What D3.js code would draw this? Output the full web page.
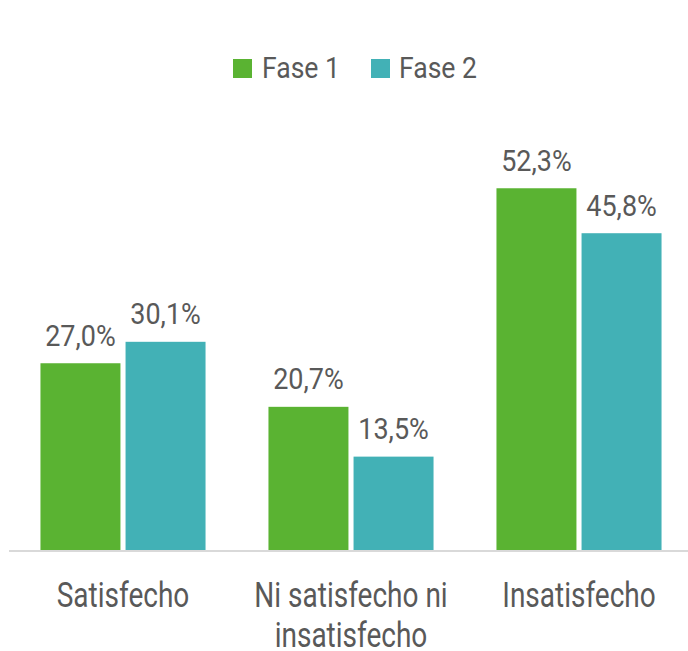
<!DOCTYPE html>
<html>
<head>
<meta charset="utf-8">
<script src="https://cdn.jsdelivr.net/npm/d3@7"></script>
<style>
  html, body { margin: 0; padding: 0; background: #ffffff; }
  svg { display: block; }
  text { font-family: Roboto, "Noto Sans", sans-serif; fill: #595959; }
</style>
</head>
<body>
<script>
// Satisfaction levels by phase (percent)
const categories = ["Satisfecho", "Ni satisfecho ni insatisfecho", "Insatisfecho"];
const seriesNames = ["Fase 1", "Fase 2"];
const fase1 = [27.0, 20.7, 52.3];
const fase2 = [30.1, 13.5, 45.8];
const colors = ["#5ab332", "#42b1b6"];

const W = 688, H = 651;
const svg = d3.select("body").append("svg").attr("width", W).attr("height", H);

const rows = categories.map((c, i) => ({ category: c, values: [fase1[i], fase2[i]] }));

const x0 = d3.scaleBand().domain(categories).range([9, 693])
  .paddingInner(0.276).paddingOuter(0.138);
const x1 = d3.scaleBand().domain(seriesNames).range([0, x0.bandwidth()])
  .paddingInner(0.06).paddingOuter(0);
const y = d3.scaleLinear().domain([0, 60]).range([550, 135]);
const color = d3.scaleOrdinal().domain(seriesNames).range(colors);
const fmt = v => d3.format(".1f")(v).replace(".", ",") + "%";

// Bars and value labels
const groups = svg.append("g").selectAll("g").data(rows).join("g")
  .attr("transform", d => `translate(${x0(d.category)},0)`);

const items = groups.selectAll("g").data(d => d.values.map((v, i) => ({ key: seriesNames[i], value: v })))
  .join("g");

items.append("rect")
  .attr("x", d => x1(d.key))
  .attr("y", d => y(d.value))
  .attr("width", x1.bandwidth())
  .attr("height", d => y(0) - y(d.value))
  .attr("fill", d => color(d.key));

items.append("text")
  .attr("transform", d => `translate(${x1(d.key) + x1.bandwidth() / 2},${y(d.value) - 17.5}) scale(0.93,1)`)
  .attr("text-anchor", "middle")
  .style("font-size", "29px")
  .text(d => fmt(d.value));

// Baseline axis
const xAxis = d3.axisBottom(x0).tickSize(0).tickFormat("");
const axisG = svg.append("g").attr("transform", `translate(0,551)`).call(xAxis);
axisG.select(".domain").attr("stroke", "#d9d9d9").attr("stroke-width", 2)
  .attr("d", "M9,0H688");

// Category labels, wrapped onto lines
const catFont = 35, catScale = 0.8, maxLine = 200, lineGap = 40;
svg.append("g").selectAll("g").data(categories).join("g")
  .attr("transform", d => `translate(${x0(d) + x0.bandwidth() / 2},607) scale(${catScale},1)`)
  .each(function (d) {
    const g = d3.select(this);
    const words = d.split(" ");
    const lines = [];
    let cur = [];
    const probe = g.append("text").style("font-size", catFont + "px");
    words.forEach(w => {
      const trial = cur.concat(w).join(" ");
      probe.text(trial);
      if (cur.length && probe.node().getComputedTextLength() * catScale > maxLine) {
        lines.push(cur.join(" "));
        cur = [w];
      } else {
        cur.push(w);
      }
    });
    lines.push(cur.join(" "));
    probe.remove();
    g.selectAll("text").data(lines).join("text")
      .attr("text-anchor", "middle")
      .attr("y", (l, i) => i * lineGap)
      .style("font-size", catFont + "px")
      .text(l => l);
  });

// Legend
const legendItems = [
  { name: seriesNames[0], sx: 233, tx: 262 },
  { name: seriesNames[1], sx: 371, tx: 399 }
];
const legend = svg.append("g");
legendItems.forEach(it => {
  legend.append("rect").attr("x", it.sx).attr("y", 59).attr("width", 19).attr("height", 19)
    .attr("fill", color(it.name));
  legend.append("text")
    .attr("transform", `translate(${it.tx},78) scale(0.9,1)`)
    .style("font-size", "29.5px")
    .text(it.name);
});
</script>
</body>
</html>
